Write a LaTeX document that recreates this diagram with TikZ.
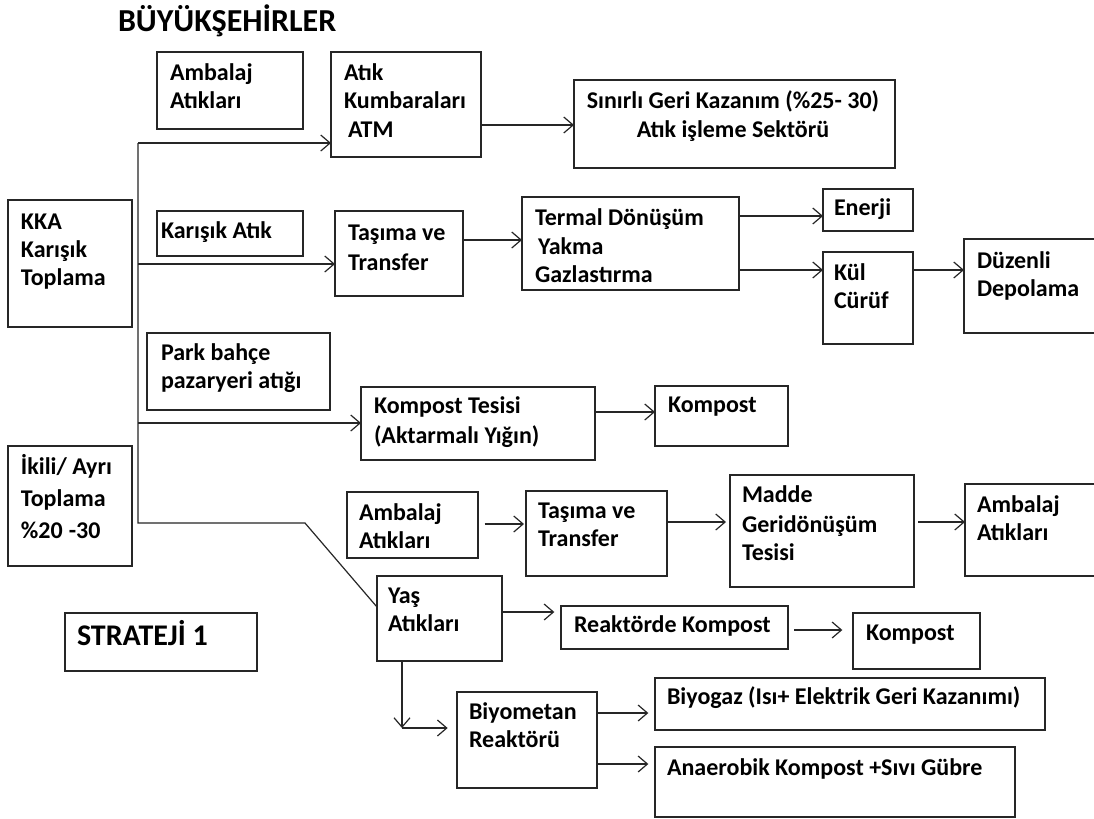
\documentclass[tikz,border=0pt]{standalone}
\usepackage{fontspec}
\setmainfont{Carlito}
\usetikzlibrary{arrows.meta,fit,calc}
\newcommand{\blines}[1]{\begin{tabular}[t]{@{}l@{}}#1\end{tabular}}
\newcommand{\clines}[1]{\begin{tabular}[t]{@{}c@{}}#1\end{tabular}}
\begin{document}
\begin{tikzpicture}[x=0.75pt,y=-0.75pt,
  box/.style={draw=black!85, line width=1pt, inner sep=0pt, outer sep=0pt},
  txt/.style={anchor=base west, inner sep=0pt, outer sep=0pt, text=black,
    font=\bfseries\fontsize{18}{21}\selectfont},
  ctxt/.style={txt, anchor=base},
  conn/.style={line width=0.9pt, draw=black!85},
  arr/.style={conn, -{Straight Barb[length=7pt,width=12pt,line width=0.9pt]}}
]
\useasboundingbox (0,0) rectangle (1094,818);
\fill[white] (0,0) rectangle (1094,818);

% title
\node[txt, font=\bfseries\fontsize{24}{28}\selectfont] (title) at (118,31) {BÜYÜKŞEHİRLER};

% boxes
\node[box, fit={(157,52) (303,129)}] (a1) {};
\node[box, fit={(331,52) (481,157)}] (atm) {};
\node[box, fit={(574,80) (895,168)}] (sgk) {};
\node[box, fit={(8,200) (132,327)}] (kka) {};
\node[box, fit={(157,211) (303,256)}] (ka) {};
\node[box, fit={(335,211) (463,296)}] (tt1) {};
\node[box, fit={(522,197) (739,290)}] (td) {};
\node[box, fit={(823,189) (913,231)}] (en) {};
\node[box, fit={(823,252) (913,344)}] (kul) {};
\node[box, fit={(964,239) (1100,333)}] (dd) {};
\node[box, fit={(147,333) (330,410)}] (pb) {};
\node[box, fit={(361,387) (595,460)}] (kt) {};
\node[box, fit={(655,386) (788,446)}] (k1) {};
\node[box, fit={(8,446) (132,566)}] (ia) {};
\node[box, fit={(347,492) (478,558)}] (a2) {};
\node[box, fit={(526,491) (667,576)}] (tt2) {};
\node[box, fit={(730,475) (914,587)}] (mgt) {};
\node[box, fit={(965,484) (1100,576)}] (a3) {};
\node[box, fit={(65,613) (257,671)}] (str) {};
\node[box, fit={(377,576) (502,661)}] (ya) {};
\node[box, fit={(561,606) (788,649)}] (rk) {};
\node[box, fit={(853,613) (980,669)}] (k2) {};
\node[box, fit={(457,692) (597,788)}] (br) {};
\node[box, fit={(655,678) (1045,730)}] (bg) {};
\node[box, fit={(655,747) (1015,817)}] (ak) {};

% texts
\node[txt] (a1t) at (170,80) {\blines{Ambalaj\\Atıkları}};
\node[txt] (atmt) at (344,80) {\blines{Atık\\Kumbaraları\\[1pt]\hspace*{3pt}ATM}};
\node[ctxt] (sgkt) at (733,108) {\clines{Sınırlı Geri Kazanım (\%25- 30)\\[1pt]Atık işleme Sektörü}};
\node[txt] (kkat) at (21,229) {\blines{KKA\\Karışık\\Toplama}};
\node[txt] (kat) at (161,238) {Karışık Atık};
\node[txt] (tt1t) at (348,240) {\blines{Taşıma ve\\[2pt]Transfer}};
\node[txt] (tdt) at (535,225) {\blines{Termal Dönüşüm\\[1pt]\hspace*{2.25pt}Yakma\\Gazlastırma}};
\node[txt] (ent) at (834,215) {Enerji};
\node[txt] (kult) at (834,280) {\blines{Kül\\Cürüf}};
\node[txt] (ddt) at (977,268) {\blines{Düzenli\\Depolama}};
\node[txt] (pbt) at (161,360) {\blines{Park bahçe\\pazaryeri atığı}};
\node[txt] (ktt) at (374,413) {\blines{Kompost Tesisi\\[2pt](Aktarmalı Yığın)}};
\node[txt] (k1t) at (668,412) {Kompost};
\node[txt] (iat) at (21,474) {\blines{İkili/ Ayrı\\[3pt]Toplama\\[3pt]\%20\hspace{4.5pt}-30}};
\node[txt] (a2t) at (359,520) {\blines{Ambalaj\\Atıkları}};
\node[txt] (tt2t) at (538,518) {\blines{Taşıma ve\\Transfer}};
\node[txt] (mgtt) at (742,502) {\blines{Madde\\[2pt]Geridönüşüm\\Tesisi}};
\node[txt] (a3t) at (977,512) {\blines{Ambalaj\\Atıkları}};
\node[txt, font=\bfseries\fontsize{22.5}{26}\selectfont] (strt) at (77,645) {STRATEJİ\hspace{5pt}1};
\node[txt] (yat) at (388,603) {\blines{Yaş\\Atıkları}};
\node[txt] (rkt) at (574,632) {Reaktörde Kompost};
\node[txt] (k2t) at (866,640) {Kompost};
\node[txt] (brt) at (469,719) {\blines{Biyometan\\Reaktörü}};
\node[txt] (bgt) at (667,704) {Biyogaz (Isı+ Elektrik Geri Kazanımı)};
\node[txt] (akt) at (667,775) {Anaerobik Kompost +Sıvı Gübre};

% trunk
\coordinate (ttop) at (138,143);
\coordinate (tbot) at (138,523);
\coordinate (bend) at (305,523);
\coordinate (diagend) at (377,607);
\coordinate (b1) at (138,264);
\coordinate (b2) at (138,423);
\draw[conn] (ttop) -- (tbot) -- (bend) -- (diagend);
\draw[arr] (ttop) -- (atm.west |- ttop);
\draw[arr] (b1) -- (tt1.west |- b1);
\draw[arr] (b2) -- (kt.west |- b2);

% other connectors
\coordinate (y125) at (0,125);
\draw[arr] (atm.east |- y125) -- (sgk.west |- y125);
\coordinate (y240) at (0,240);
\draw[arr] (tt1.east |- y240) -- (td.west |- y240);
\coordinate (y216) at (0,216);
\draw[arr] (td.east |- y216) -- (en.west |- y216);
\coordinate (y270) at (0,270);
\draw[arr] (td.east |- y270) -- (kul.west |- y270);
\draw[arr] (kul.east |- y270) -- (dd.west |- y270);
\coordinate (y412) at (0,412);
\draw[arr] (kt.east |- y412) -- (k1.west |- y412);
\coordinate (y524) at (0,524);
\draw[arr, shorten <=5pt, shorten >=1.5pt] (a2.east |- y524) -- (tt2.west |- y524);
\coordinate (y522) at (0,522);
\draw[arr, shorten >=3pt] (tt2.east |- y522) -- (mgt.west |- y522);
\draw[arr, shorten <=3pt] (mgt.east |- y522) -- (a3.west |- y522);
\coordinate (y612) at (0,612);
\draw[arr, shorten >=5pt] (ya.east |- y612) -- (rk.west |- y612);
\coordinate (y630) at (0,630);
\draw[arr, shorten <=4.5pt, shorten >=8pt] (rk.east |- y630) -- (k2.west |- y630);
\coordinate (ycorner) at (402,728);
\draw[arr] (ya.south -| ycorner) -- (ycorner);
\draw[arr, shorten >=7pt] (ycorner) -- (br.west |- ycorner);
\coordinate (y713) at (0,713);
\draw[arr, shorten >=5pt] (br.east |- y713) -- (bg.west |- y713);
\coordinate (y764) at (0,764);
\draw[arr, shorten >=5pt] (br.east |- y764) -- (ak.west |- y764);
\end{tikzpicture}
\end{document}
